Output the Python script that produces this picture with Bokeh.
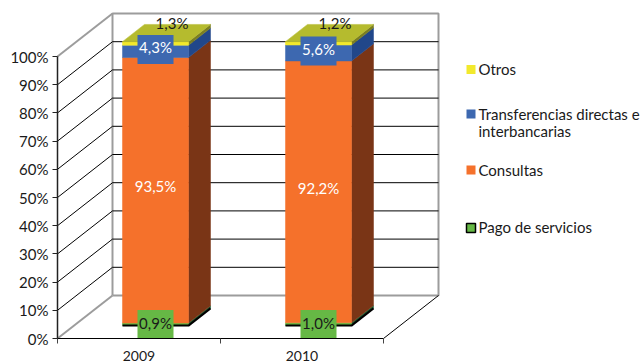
from bokeh.core.properties import value
from bokeh.embed import file_html
from bokeh.models import FixedTicker, LinearAxis, Range1d
from bokeh.plotting import figure
from bokeh.resources import INLINE

years = ["2009", "2010"]
series_names = ["Pago de servicios", "Consultas", "Transferencias directas e interbancarias", "Otros"]
pago = [0.9, 1.0]
consultas = [93.5, 92.2]
transferencias = [4.3, 5.6]
otros = [1.3, 1.2]
pct_ticks = [0, 10, 20, 30, 40, 50, 60, 70, 80, 90, 100]

FONT = "Lato"
TXT = "#1a1a1a"

# screen scale of the chart: one category and one percentage point
CAT_PX, PCT_PX = 163.0, 2.82
ORIGIN_X, ORIGIN_Y = 57.0, 338.0
# oblique offset of the full depth of the box, in data units
DX, DY = 55.0 / CAT_PX, 43.0 / PCT_PX
BAR_HALF = 0.2025
D0, D1 = 0.3, 0.7
FACE = 1.007


def xpx(px):
    return (px - ORIGIN_X) / CAT_PX


def ypx(py):
    return (ORIGIN_Y - py) / PCT_PX


def pct(v):
    return f"{v:.1f}".replace(".", ",") + "%"


p = figure(width=642, height=363, output_backend="svg", toolbar_location=None,
           x_axis_type=None, y_axis_type=None, min_border=0,
           x_range=Range1d(xpx(0), xpx(642)), y_range=Range1d(ypx(363), ypx(0)))
p.outline_line_color = None
p.background_fill_color = "white"
p.xgrid.visible = False
p.ygrid.visible = False

# back wall and floor edges
GREY = "#9c9c9c"
p.line([DX, DX, 2 + DX, 2 + DX, DX], [DY, 100 + DY, 100 + DY, DY, DY], line_color=GREY, line_width=2)
p.line([0, DX], [100, 100 + DY], line_color=GREY, line_width=2)
p.line([0, DX], [0, DY], line_color=GREY, line_width=2)
p.line([2, 2 + DX], [0, DY], line_color="black", line_width=1)

# gridlines running along the side wall and the back wall
levels = [t for t in pct_ticks if 0 < t < 100]
p.multi_line([[0, DX, 2 + DX] for _ in levels], [[t, t + DY, t + DY] for t in levels],
             line_color="black", line_width=1)

# stacked boxes, bottom segment first
stack = [
    (pago, "#66b845", "#1c5c30"),
    (consultas, "#f5712b", "#7a3516"),
    (transferencias, "#3d68b0", "#21478a"),
    (otros, "#f2e92c", "#7b7f20"),
]
for i in range(len(years)):
    cx = i + 0.5
    x0 = cx - BAR_HALF + D0 * DX
    x1 = cx + BAR_HALF + D0 * DX
    sx = (D1 - D0) * DX
    sy = (D1 - D0) * DY
    base = D0 * DY
    level = 0.0
    for k, (vals, front, side) in enumerate(stack):
        lo, hi = level * FACE + base, (level + vals[i]) * FACE + base
        level += vals[i]
        p.patch([x1, x1 + sx, x1 + sx, x1], [lo, lo + sy, hi + sy, hi], fill_color=side, line_color=side, line_width=0.5)
        p.patch([x0, x1, x1, x0], [lo, lo, hi, hi], fill_color=front, line_color=front, line_width=0.5)
        if k == 0:
            # the lowest series carries a black outline along the bottom
            p.line([x0, x1, x1 + sx], [lo, lo, lo + sy], line_color="black", line_width=2)
    top = level * FACE + base
    p.patch([x0, x1, x1 + sx, x0 + sx], [top, top, top + sy, top + sy], fill_color="#b5bb2e", line_color="#b5bb2e", line_width=0.5)

    # value labels; the first and third sit on coloured boxes
    y_p = (pago[i] / 2) * FACE + base
    y_c = (pago[i] + consultas[i] / 2) * FACE + base
    y_t = (pago[i] + consultas[i] + transferencias[i] / 2) * FACE + base
    fx = cx + D0 * DX
    p.rect([fx], [y_p - 0.1], width=36, height=29, width_units="screen", height_units="screen",
           fill_color="#66b845", line_color=None)
    p.rect([fx], [y_t + 0.7], width=36, height=29, width_units="screen", height_units="screen",
           fill_color="#3d68b0", line_color=None)
    for ly, val, col in [(y_p + 0.5, pago[i], TXT), (y_c + 1.5, consultas[i], "white"), (y_t + 1.5, transferencias[i], "white")]:
        p.text([fx], [ly], text=[pct(val)], text_color=col, text_align="center", text_baseline="middle",
               text_font=value(FONT), text_font_size="15px")
    # share of the top segment, printed over the lid of the box
    p.text([fx + 0.3 * DX], [100 + DY - 3.5], text=[pct(otros[i])], text_color=TXT, text_align="center",
           text_baseline="middle", text_font=value(FONT), text_font_size="15px")

# value axis, drawn over the front-left edge
yaxis = LinearAxis(fixed_location=0, bounds=(0, 100), ticker=FixedTicker(ticks=pct_ticks),
                   major_label_overrides={t: f"{t}%" for t in pct_ticks})
yaxis.axis_line_color = "#222222"
yaxis.axis_line_width = 1.5
yaxis.major_tick_line_color = "#222222"
yaxis.major_tick_in = 0
yaxis.major_tick_out = 5
yaxis.minor_tick_line_color = None
yaxis.major_label_standoff = 4
yaxis.major_label_text_font = FONT
yaxis.major_label_text_font_size = "15px"
yaxis.major_label_text_color = TXT
p.add_layout(yaxis, "left")

# category axis: ticks between the categories, labels at their centres
xaxis = LinearAxis(fixed_location=0, bounds=(0, 2),
                   ticker=FixedTicker(ticks=[0.5, 1.5], minor_ticks=[0, 1, 2]),
                   major_label_overrides={0.5: years[0], 1.5: years[1]})
xaxis.axis_line_color = "black"
xaxis.axis_line_width = 1.2
xaxis.major_tick_line_color = None
xaxis.minor_tick_line_color = "#444444"
xaxis.minor_tick_in = 0
xaxis.minor_tick_out = 5
xaxis.major_label_standoff = 6
xaxis.major_label_text_font = FONT
xaxis.major_label_text_font_size = "14px"
xaxis.major_label_text_color = TXT
p.add_layout(xaxis, "below")

# legend, top entry first
legend_rows = [
    (series_names[3], "#f2e92c", None, 69, [68.5]),
    (series_names[2], "#3d68b0", None, 113.5, [113.5, 130.5]),
    (series_names[1], "#f5712b", None, 169.5, [169.5]),
    (series_names[0], "#66b845", "black", 227.5, [226.5]),
]
for name, col, edge, sw_y, text_ys in legend_rows:
    p.rect([xpx(470.5)], [ypx(sw_y)], width=9, height=9, width_units="screen", height_units="screen",
           fill_color=col, line_color=edge, line_width=1.5)
    if len(text_ys) == 2:
        head, tail = name.rsplit(" ", 1)
        parts = [head, tail]
    else:
        parts = [name]
    for part, ty in zip(parts, text_ys):
        p.text([xpx(478)], [ypx(ty)], text=[part], text_color=TXT, text_align="left", text_baseline="middle",
               text_font=value(FONT), text_font_size="15px")

open("out.html", "w").write(file_html(p, INLINE))
